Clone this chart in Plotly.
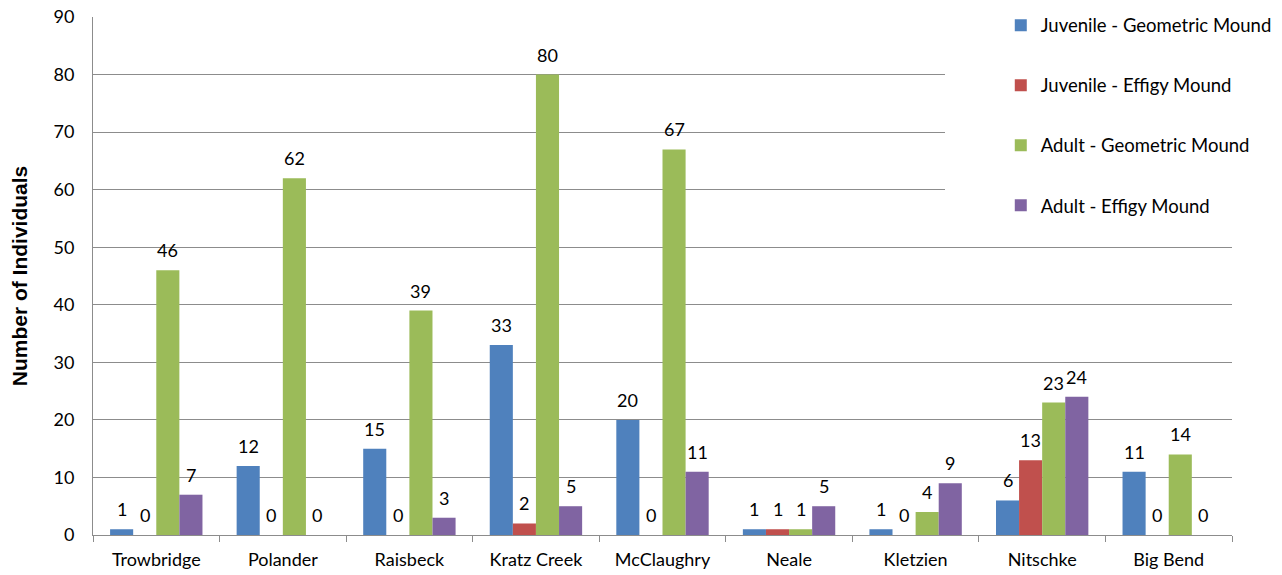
import plotly.graph_objects as go

sites = ["Trowbridge", "Polander", "Raisbeck", "Kratz Creek", "McClaughry",
         "Neale", "Kletzien", "Nitschke", "Big Bend"]
juv_geometric = [1, 12, 15, 33, 20, 1, 1, 6, 11]
juv_effigy = [0, 0, 0, 2, 0, 1, 0, 13, 0]
adult_geometric = [46, 62, 39, 80, 67, 1, 4, 23, 14]
adult_effigy = [7, 0, 3, 5, 11, 5, 9, 24, 0]

series = [
    ("Juvenile - Geometric Mound", juv_geometric, "#4F81BD"),
    ("Juvenile - Effigy Mound", juv_effigy, "#C0504D"),
    ("Adult - Geometric Mound", adult_geometric, "#9BBB59"),
    ("Adult - Effigy Mound", adult_effigy, "#8064A2"),
]

LABEL_FONT = "Lato, Carlito, Calibri, sans-serif"

W, H = 1282, 575
ML, MR, MT, MB = 93, 50, 17, 40
BARGAP = 0.27
plot_w = W - ML - MR
plot_h = H - MT - MB
bar_w = plot_w / len(sites) * (1 - BARGAP) / len(series)

fig = go.Figure()
annotations = []
for i, (name, vals, color) in enumerate(series):
    fig.add_trace(go.Bar(
        x=sites, y=vals, name=name,
        marker=dict(color=color, line=dict(width=0)),
        legendgroup=f"g{i}",
    ))
    # value labels above each bar, shifted to the bar's slot within its group
    for site, v in zip(sites, vals):
        annotations.append(dict(
            x=site, y=v, text=str(v), showarrow=False,
            xref="x", yref="y", yanchor="bottom", xanchor="center",
            xshift=(i - (len(series) - 1) / 2) * bar_w, yshift=7,
            font=dict(family=LABEL_FONT, size=18, color="black"),
        ))

grid = "#8c8c8c"
fig.update_layout(
    width=W, height=H,
    margin=dict(l=ML, r=MR, t=MT, b=MB, autoexpand=False),
    paper_bgcolor="white", plot_bgcolor="white",
    barmode="group", bargap=BARGAP, bargroupgap=0,
    showlegend=True,
    legend=dict(
        x=0.797, y=1.02, xanchor="left", yanchor="top",
        bgcolor="rgba(0,0,0,0)",
        font=dict(family=LABEL_FONT, size=18.5, color="black"),
        traceorder="grouped", tracegroupgap=33,
    ),
    font=dict(family=LABEL_FONT, size=18, color="black"),
    xaxis=dict(
        type="category",
        showline=True, linecolor=grid, linewidth=1,
        ticks="outside", tickson="boundaries", ticklen=6, tickcolor=grid,
        ticklabelstandoff=8,
        tickfont=dict(family=LABEL_FONT, size=18, color="black"),
        showgrid=False,
    ),
    yaxis=dict(
        range=[0, 90], dtick=10,
        showline=True, linecolor=grid, linewidth=1,
        showgrid=True, gridcolor=grid, gridwidth=1,
        ticks="", ticklabelstandoff=14,
        tickfont=dict(family=LABEL_FONT, size=18, color="black"),
        zeroline=False,
        title=dict(text="<b>Number of Individuals</b>",
                   font=dict(family="Liberation Sans, Arial, sans-serif", size=21, color="black"),
                   standoff=20),
    ),
    annotations=annotations,
    shapes=[dict(
        type="rect", xref="paper", yref="paper",
        x0=(945 - ML) / plot_w, x1=1.06, y0=(535 - 238) / plot_h, y1=1.05,
        fillcolor="white", line=dict(width=0), layer="above",
    )],
)

fig.write_html("out.html")
